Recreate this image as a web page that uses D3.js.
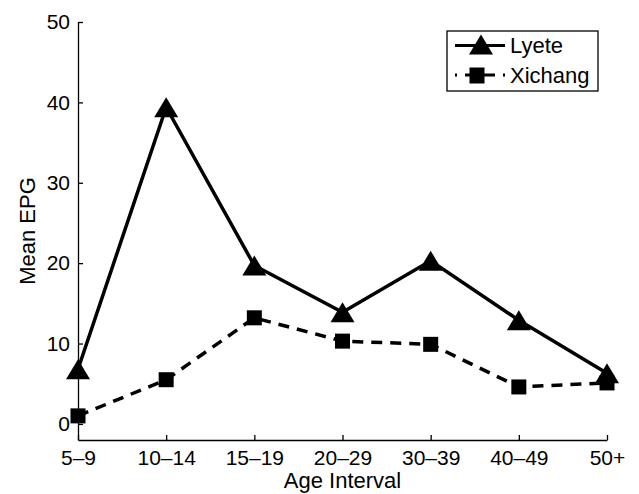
<!DOCTYPE html>
<html>
<head>
<meta charset="utf-8">
<script src="https://cdn.jsdelivr.net/npm/d3@7"></script>
<style>
  html, body { margin: 0; padding: 0; background: #fff; }
  svg { display: block; }
  text { font-family: "Liberation Sans", Arial, Helvetica, sans-serif; fill: #000; }
</style>
</head>
<body>
<svg id="chart" width="639" height="494"></svg>
<script>
const categories = ["5\u20139", "10\u201314", "15\u201319", "20\u201329", "30\u201339", "40\u201349", "50+"];
const lyete = [6.8, 39.4, 19.7, 13.9, 20.3, 12.9, 6.3];
const xichang = [1.0, 5.5, 13.2, 10.3, 9.9, 4.6, 5.1];
const yTicks = [0, 10, 20, 30, 40, 50];
const seriesNames = ["Lyete", "Xichang"];

const svg = d3.select("#chart");
const mLeft = 78, mRight = 607, mTop = 22, mBottom = 440;

const x = d3.scalePoint().domain(categories).range([mLeft, mRight]);
const y = d3.scaleLinear().domain([-2, 50]).range([mBottom, mTop]);

const tickFont = 21, labelFont = 22;

// axes
const xAxis = svg.append("g").attr("transform", `translate(0,${mBottom})`)
  .call(d3.axisBottom(x).tickSizeInner(-5).tickSizeOuter(0).tickPadding(10));
const yAxis = svg.append("g").attr("transform", `translate(${mLeft},0)`)
  .call(d3.axisLeft(y).tickValues(yTicks).tickSizeInner(-5).tickSizeOuter(0).tickPadding(8));
[xAxis, yAxis].forEach(g => {
  g.attr("font-size", tickFont).attr("font-family", null);
  g.selectAll("path.domain").attr("stroke", "#000").attr("stroke-width", 1.3);
  g.selectAll(".tick line").attr("stroke", "#000").attr("stroke-width", 1.3);
  g.selectAll(".tick text").attr("font-size", tickFont).style("fill", "#000");
});

// axis labels
svg.append("text")
  .attr("x", (mLeft + mRight) / 2).attr("y", 488)
  .attr("text-anchor", "middle").attr("font-size", labelFont)
  .text("Age Interval");
svg.append("text")
  .attr("transform", `translate(35,${(mTop + mBottom) / 2}) rotate(-90)`)
  .attr("text-anchor", "middle").attr("font-size", labelFont)
  .text("Mean EPG");

// markers
const triPath = "M0,-10L12,10L-12,10Z";
const sq = 15;

const line = d3.line().x((d, i) => x(categories[i])).y(d => y(d));

// Xichang (dashed, squares)
svg.append("path").datum(xichang)
  .attr("d", line).attr("fill", "none").attr("stroke", "#000")
  .attr("stroke-width", 3.5).attr("stroke-dasharray", "11,8");
svg.append("g").selectAll("rect").data(xichang).join("rect")
  .attr("x", (d, i) => x(categories[i]) - sq / 2)
  .attr("y", d => y(d) - sq / 2)
  .attr("width", sq).attr("height", sq).attr("fill", "#000");

// Lyete (solid, triangles)
svg.append("path").datum(lyete)
  .attr("d", line).attr("fill", "none").attr("stroke", "#000")
  .attr("stroke-width", 3.5).attr("stroke-linejoin", "miter");
svg.append("g").selectAll("path").data(lyete).join("path")
  .attr("d", triPath)
  .attr("transform", (d, i) => `translate(${x(categories[i])},${y(d)})`)
  .attr("fill", "#000");

// legend
const lg = svg.append("g");
lg.append("rect").attr("x", 447).attr("y", 31).attr("width", 151).attr("height", 60)
  .attr("fill", "#fff").attr("stroke", "#000").attr("stroke-width", 1.3);
const rows = [45.5, 75];
seriesNames.forEach((name, k) => {
  const ry = rows[k];
  const l = lg.append("line").attr("x1", 455).attr("x2", 505).attr("y1", ry).attr("y2", ry)
    .attr("stroke", "#000").attr("stroke-width", 3);
  if (k === 1) l.attr("stroke-dasharray", "11,8").attr("stroke-dashoffset", 9);
  if (k === 0) {
    lg.append("path").attr("d", triPath).attr("transform", `translate(481,${ry - 1})`).attr("fill", "#000");
  } else {
    lg.append("rect").attr("x", 477 - sq / 2).attr("y", ry - sq / 2).attr("width", sq).attr("height", sq + 1).attr("fill", "#000");
  }
  lg.append("text").attr("x", 510).attr("y", ry).attr("dy", "0.35em")
    .attr("font-size", labelFont).text(name);
});
</script>
</body>
</html>
